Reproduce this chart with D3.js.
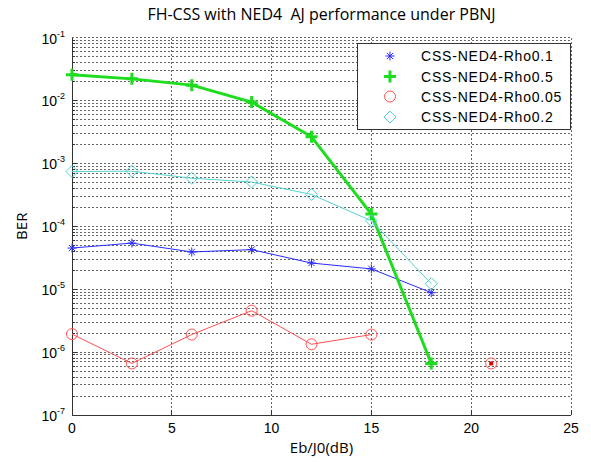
<!DOCTYPE html>
<html>
<head>
<meta charset="utf-8">
<script src="https://cdn.jsdelivr.net/npm/d3@7"></script>
<style>
  body { margin: 0; background: #fff; }
  svg { display: block; }
</style>
</head>
<body>
<svg id="chart" width="591" height="462"></svg>
<script>
// values
const ebj0 = [0, 3, 6, 9, 12, 15, 18, 21];
const rho01 = [4.5e-5, 5.4e-5, 3.9e-5, 4.25e-5, 2.6e-5, 2.1e-5, 8.8e-6, null];
const rho05 = [0.0255, 0.022, 0.0175, 0.0094, 0.00264, 1.56e-4, 6.6e-7, null];
const rho005 = [1.93e-6, 6.6e-7, 1.9e-6, 4.55e-6, 1.33e-6, 1.9e-6, null, 6.6e-7];
const rho02 = [7.4e-4, 7.5e-4, 5.8e-4, 5.05e-4, 3.2e-4, 1.22e-4, 1.22e-5, null];
const xTicks = [0, 5, 10, 15, 20, 25];
const yDecades = [-7, -6, -5, -4, -3, -2, -1];
const legendNames = ["CSS-NED4-Rho0.1", "CSS-NED4-Rho0.5", "CSS-NED4-Rho0.05", "CSS-NED4-Rho0.2"];

const svg = d3.select("#chart");
const pLeft = 72, pRight = 571, pTop = 37.5, pBottom = 415;

const x = d3.scaleLinear().domain([0, 25]).range([pLeft, pRight]);
const y = d3.scaleLog().domain([1e-7, 1e-1]).range([pBottom, pTop]);

const gridCol = "#666";
const dash = "2,2";
const grid = svg.append("g");

// horizontal grid, every minor line
yDecades.slice(0, -1).forEach(function (k) {
  for (let m = 1; m <= 9; m++) {
    const v = m * Math.pow(10, k);
    if (m === 1 && k === -7) continue;
    grid.append("line")
      .attr("x1", pLeft).attr("x2", pRight)
      .attr("y1", y(v)).attr("y2", y(v))
      .attr("stroke", gridCol).attr("stroke-width", 1)
      .attr("stroke-dasharray", dash)
      .attr("shape-rendering", "crispEdges");
    // small tick on the left axis
    grid.append("line")
      .attr("x1", pLeft).attr("x2", pLeft + (m === 1 ? 5 : 3))
      .attr("y1", y(v)).attr("y2", y(v))
      .attr("stroke", "#333").attr("shape-rendering", "crispEdges");
  }
});
grid.append("line")
  .attr("x1", pLeft).attr("x2", pRight)
  .attr("y1", y(1e-1)).attr("y2", y(1e-1))
  .attr("stroke", gridCol).attr("stroke-dasharray", dash)
  .attr("shape-rendering", "crispEdges");

// vertical grid
xTicks.slice(1).forEach(function (t) {
  grid.append("line")
    .attr("x1", x(t)).attr("x2", x(t))
    .attr("y1", pTop).attr("y2", pBottom)
    .attr("stroke", gridCol).attr("stroke-dasharray", dash)
    .attr("shape-rendering", "crispEdges");
  grid.append("line")
    .attr("x1", x(t)).attr("x2", x(t))
    .attr("y1", pBottom).attr("y2", pBottom - 5)
    .attr("stroke", "#333").attr("shape-rendering", "crispEdges");
});

// axes lines
svg.append("line").attr("x1", pLeft).attr("x2", pLeft).attr("y1", pTop).attr("y2", pBottom)
  .attr("stroke", "#333").attr("shape-rendering", "crispEdges");
svg.append("line").attr("x1", pLeft).attr("x2", pRight).attr("y1", pBottom).attr("y2", pBottom)
  .attr("stroke", "#333").attr("shape-rendering", "crispEdges");

// x tick labels
svg.append("g").selectAll("text").data(xTicks).join("text")
  .attr("x", d => x(d)).attr("y", pBottom + 18)
  .attr("text-anchor", "middle")
  .style("font", "14px 'Liberation Sans', Arial, sans-serif")
  .text(d => d);

// y tick labels 10^k
yDecades.forEach(function (k) {
  const t = svg.append("text")
    .attr("x", pLeft - 7).attr("y", y(Math.pow(10, k)) + 6)
    .attr("text-anchor", "end")
    .style("font", "14px 'Liberation Sans', Arial, sans-serif");
  t.append("tspan").text("10");
  t.append("tspan").attr("dy", -7).style("font-size", "9px").text(k);
});

// titles
svg.append("text").attr("x", (pLeft + pRight) / 2).attr("y", 20)
  .attr("text-anchor", "middle")
  .style("font", "16px 'Open Sans', 'Noto Sans', sans-serif")
  .style("white-space", "pre")
  .text("FH-CSS with NED4  AJ performance under PBNJ");
svg.append("text").attr("x", (pLeft + pRight) / 2).attr("y", pBottom + 38)
  .attr("text-anchor", "middle")
  .style("font", "15px 'Open Sans', 'Noto Sans', sans-serif")
  .text("Eb/J0(dB)");
svg.append("text")
  .attr("transform", "translate(27," + ((pTop + pBottom) / 2) + ") rotate(-90)")
  .attr("text-anchor", "middle")
  .style("font", "15px 'Open Sans', 'Noto Sans', sans-serif")
  .text("BER");

// marker drawing
function marker(g, kind, cx, cy, color) {
  if (kind === "star") {
    const r = 4.5;
    g.append("path")
      .attr("d", `M${cx - r},${cy}H${cx + r}M${cx},${cy - r}V${cy + r}` +
        `M${cx - r * 0.7},${cy - r * 0.7}L${cx + r * 0.7},${cy + r * 0.7}` +
        `M${cx - r * 0.7},${cy + r * 0.7}L${cx + r * 0.7},${cy - r * 0.7}`)
      .attr("stroke", color).attr("stroke-width", 1).attr("fill", "none");
  } else if (kind === "plus") {
    const r = 6;
    g.append("path")
      .attr("d", `M${cx - r},${cy}H${cx + r}M${cx},${cy - r}V${cy + r}`)
      .attr("stroke", color).attr("stroke-width", 3).attr("fill", "none");
  } else if (kind === "circle") {
    g.append("circle").attr("cx", cx).attr("cy", cy).attr("r", 5.5)
      .attr("stroke", color).attr("stroke-width", 1).attr("fill", "none");
  } else if (kind === "diamond") {
    const r = 6;
    g.append("path")
      .attr("d", `M${cx},${cy - r}L${cx + r},${cy}L${cx},${cy + r}L${cx - r},${cy}Z`)
      .attr("stroke", color).attr("stroke-width", 1).attr("fill", "none");
  }
}

const series = [
  { vals: rho01, color: "#2a2aff", width: 1, kind: "star" },
  { vals: rho05, color: "#1edc1e", width: 3, kind: "plus" },
  { vals: rho005, color: "#ff5050", width: 1, kind: "circle" },
  { vals: rho02, color: "#55d2d2", width: 1, kind: "diamond" }
];

const line = d3.line()
  .defined(d => d[1] != null)
  .x(d => x(d[0])).y(d => y(d[1]));

const plot = svg.append("g");
series.forEach(function (s) {
  const pts = ebj0.map((e, i) => [e, s.vals[i]]);
  plot.append("path").datum(pts)
    .attr("d", line)
    .attr("fill", "none")
    .attr("stroke", s.color)
    .attr("stroke-width", s.width)
    .attr("stroke-linejoin", "round");
  pts.filter(p => p[1] != null).forEach(function (p) {
    marker(plot, s.kind, x(p[0]), y(p[1]), s.color);
  });
});
// the lone red point at 21 dB shows a filled dot in the middle
plot.append("rect")
  .attr("x", x(ebj0[7]) - 2).attr("y", y(rho005[7]) - 2)
  .attr("width", 4).attr("height", 4)
  .attr("fill", "#e00000");

// legend
const lg = svg.append("g");
lg.append("rect").attr("x", 357.5).attr("y", 43.5).attr("width", 213).attr("height", 86)
  .attr("fill", "#fff").attr("stroke", "#333").attr("stroke-width", 1);
const legY = [56, 76.5, 96.5, 117];
series.forEach(function (s, i) {
  marker(lg, s.kind, 390, legY[i], s.color);
  lg.append("text").attr("x", 421).attr("y", legY[i] + 5)
    .style("font", "14px 'Liberation Sans', Arial, sans-serif")
    .style("letter-spacing", "0.8px")
    .text(legendNames[i]);
});
</script>
</body>
</html>
